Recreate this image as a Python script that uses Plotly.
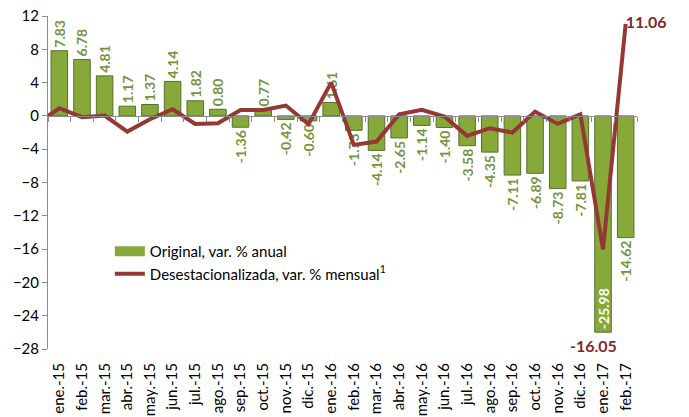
import plotly.graph_objects as go

categories = ["ene.-15", "feb.-15", "mar.-15", "abr.-15", "may.-15", "jun.-15", "jul.-15",
              "ago.-15", "sep.-15", "oct.-15", "nov.-15", "dic.-15", "ene.-16", "feb.-16",
              "mar.-16", "abr.-16", "may.-16", "jun.-16", "jul.-16", "ago.-16", "sep.-16",
              "oct.-16", "nov.-16", "dic.-16", "ene.-17", "feb.-17"]

original = [7.83, 6.78, 4.81, 1.17, 1.37, 4.14, 1.82, 0.80, -1.36, 0.77, -0.42, -0.60, 1.61,
            -1.73, -4.14, -2.65, -1.14, -1.40, -3.58, -4.35, -7.11, -6.89, -8.73, -7.81,
            -25.98, -14.62]

desest = [0.92, -0.16, 0.04, -1.88, -0.40, 0.80, -0.96, -0.88, 0.72, 0.72, 1.24, -1.00, 4.00,
          -3.48, -3.08, 0.20, 0.72, -0.08, -2.40, -1.48, -2.00, 0.52, -0.96, 0.20,
          -16.05, 11.06]
desest_start = 0.0  # line segment entering from the axis edge

y_ticks = [12, 8, 4, 0, -4, -8, -12, -16, -20, -24, -28]

FONT = "Lato"
GREEN = "#86A93A"
GREEN_TXT = "#77933C"
RED = "#953735"
RED_TXT = "#7B2C2A"

n = len(categories)
xs = list(range(n))

bar_textpos = ["inside" if v < -20 else "outside" for v in original]
bar_textcol = ["white" if v < -20 else GREEN_TXT for v in original]

fig = go.Figure()

fig.add_trace(go.Bar(
    x=xs, y=original, width=0.73,
    name="Original, var. % anual",
    showlegend=False,
    marker=dict(color=GREEN, line=dict(color="#56702A", width=1)),
    text=[f"{v:.2f}" for v in original],
    textposition=bar_textpos,
    insidetextanchor="end",
    textangle=-90,
    textfont=dict(family=FONT, size=14, color=bar_textcol, weight="bold"),
    constraintext="none",
    cliponaxis=False,
))

# legend swatch for the bars (wide rectangle as in the original)
fig.add_trace(go.Scatter(
    x=[None], y=[None], mode="lines", name="Original, var. % anual",
    line=dict(color=GREEN, width=12),
))

fig.add_trace(go.Scatter(
    x=[-0.5] + xs, y=[desest_start] + desest,
    mode="lines",
    name="Desestacionalizada, var. % mensual<sup>1</sup>",
    line=dict(color=RED, width=4),
    cliponaxis=False,
))

# label for the last value of the seasonally adjusted series
fig.add_trace(go.Scatter(
    x=[xs[-1]], y=[desest[-1]], mode="text", text=[f"{desest[-1]:.2f}"],
    textposition="middle right", showlegend=False, hoverinfo="skip",
    textfont=dict(family=FONT, size=16, color=RED_TXT, weight="bold"),
    cliponaxis=False,
))

# label for the minimum of the seasonally adjusted series, placed under the bar
imin = desest.index(min(desest))
fig.add_annotation(
    x=imin - 0.4, y=original[imin], text=f"<b>{desest[imin]:.2f}</b>",
    showarrow=False, yanchor="top", yshift=-2,
    font=dict(family=FONT, size=16, color=RED_TXT),
)

# axis at zero with category separator ticks
fig.add_trace(go.Scatter(x=[-0.5, n - 0.5], y=[0, 0], xaxis="x2", mode="lines",
                         line=dict(color="rgba(0,0,0,0)"), showlegend=False, hoverinfo="skip"))

fig.update_layout(
    width=689, height=417,
    margin=dict(l=48, r=52, t=16, b=68),
    paper_bgcolor="white", plot_bgcolor="white",
    font=dict(family=FONT, size=15, color="black"),
    showlegend=True,
    legend=dict(x=0.105, y=0.342, xanchor="left", yanchor="top",
                bgcolor="rgba(0,0,0,0)", font=dict(family=FONT, size=15, color="black"),
                tracegroupgap=0, itemwidth=30),
    xaxis=dict(range=[-0.5, n - 0.5], tickvals=xs, ticktext=categories, tickangle=-90,
               showline=False, showgrid=False, zeroline=False, ticks="", automargin=False,
               ticklabelstandoff=10, ticklabeloverflow="allow",
               tickfont=dict(family=FONT, size=15, color="black")),
    xaxis2=dict(range=[-0.5, n - 0.5], overlaying="x", anchor="free", position=0.7,
                side="bottom", showline=True, linecolor="#8C8C8C", linewidth=1,
                tickvals=[i - 0.5 for i in range(n + 1)], ticks="outside", ticklen=5,
                tickcolor="#8C8C8C", showticklabels=False, showgrid=False, zeroline=False,
                automargin=False),
    yaxis=dict(range=[-28, 12], tickvals=y_ticks, showgrid=False, zeroline=False,
               showline=True, linecolor="#8C8C8C", linewidth=1, ticks="outside",
               ticklen=5, tickcolor="#8C8C8C", automargin=False,
               ticklabeloverflow="allow",
               tickfont=dict(family=FONT, size=15, color="black")),
)

# remove the page's default body margin so the figure fills the window exactly
fig.write_html("out.html",
               config={"displayModeBar": False},
               post_script="document.body.style.margin='0';document.body.style.overflow='hidden';")
